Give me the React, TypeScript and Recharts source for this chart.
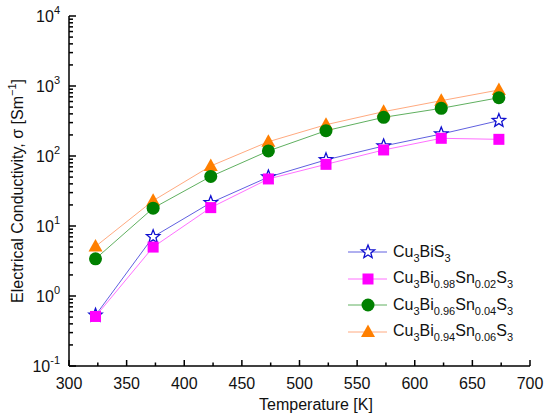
import { LineChart, Line, XAxis, YAxis, Legend } from "recharts";

// temperature [K] and conductivity [S/m]
const temperatures = [323, 373, 423, 473, 523, 573, 623, 673];
const cu3bis3 = [0.53, 7.0, 21.5, 50, 88, 139, 206, 320];
const sn002 = [0.51, 5.0, 18.3, 47, 76, 122, 179, 173];
const sn004 = [3.4, 18, 51, 118, 230, 357, 480, 680];
const sn006 = [5.1, 23, 72, 160, 280, 430, 617, 877];

const xTicks = [300, 325, 350, 375, 400, 425, 450, 475, 500, 525, 550, 575, 600, 625, 650, 675, 700];
const xLabels = [300, 350, 400, 450, 500, 550, 600, 650, 700];
const yTicks = [
  0.1, 0.2, 0.3, 0.4, 0.5, 0.6, 0.7, 0.8, 0.9,
  1, 2, 3, 4, 5, 6, 7, 8, 9,
  10, 20, 30, 40, 50, 60, 70, 80, 90,
  100, 200, 300, 400, 500, 600, 700, 800, 900,
  1000, 2000, 3000, 4000, 5000, 6000, 7000, 8000, 9000,
  10000,
];
const yLabels = [0.1, 1, 10, 100, 1000, 10000];

const data = temperatures.map((t, i) => ({
  t,
  a: cu3bis3[i],
  b: sn002[i],
  c: sn004[i],
  d: sn006[i],
}));

const FONT = "'Liberation Sans', Arial, sans-serif";

const series = [
  { key: "a", shape: "star", color: "#1010d0", line: "#6060e0", parts: [["Cu", ""], ["3", "sub"], ["BiS", ""], ["3", "sub"]] },
  { key: "b", shape: "square", color: "#ff00ff", line: "#ff70ff", parts: [["Cu", ""], ["3", "sub"], ["Bi", ""], ["0.98", "sub"], ["Sn", ""], ["0.02", "sub"], ["S", ""], ["3", "sub"]] },
  { key: "c", shape: "circle", color: "#008000", line: "#60b060", parts: [["Cu", ""], ["3", "sub"], ["Bi", ""], ["0.96", "sub"], ["Sn", ""], ["0.04", "sub"], ["S", ""], ["3", "sub"]] },
  { key: "d", shape: "triangle", color: "#ff7f00", line: "#ffaa80", parts: [["Cu", ""], ["3", "sub"], ["Bi", ""], ["0.94", "sub"], ["Sn", ""], ["0.06", "sub"], ["S", ""], ["3", "sub"]] },
];

function Marker({ shape, cx, cy, color }: { shape: string; cx: number; cy: number; color: string }) {
  if (shape === "star") {
    const pts: string[] = [];
    for (let k = 0; k < 10; k++) {
      const r = k % 2 === 0 ? 7 : 3;
      const ang = -Math.PI / 2 + (k * Math.PI) / 5;
      pts.push(`${cx + r * Math.cos(ang)},${cy + r * Math.sin(ang)}`);
    }
    return <polygon points={pts.join(" ")} fill="#fff" stroke={color} strokeWidth={1.3} />;
  }
  if (shape === "square") {
    return <rect x={cx - 5.5} y={cy - 5.5} width={11} height={11} fill={color} />;
  }
  if (shape === "circle") {
    return <circle cx={cx} cy={cy} r={6.5} fill={color} />;
  }
  return (
    <polygon
      points={`${cx},${cy - 7.5} ${cx + 7},${cy + 5} ${cx - 7},${cy + 5}`}
      fill={color}
    />
  );
}

function makeDot(shape: string, color: string) {
  return (props: any) => {
    if (props.cx == null || props.cy == null) return <g key={props.index} />;
    return (
      <g key={props.index}>
        <Marker shape={shape} cx={props.cx} cy={props.cy} color={color} />
      </g>
    );
  };
}

// tick marks point into the plot
function XTick(props: any) {
  const { x, y, payload } = props;
  const major = xLabels.includes(payload.value);
  const len = major ? 6 : 3.5;
  return (
    <g>
      <rect x={x - 0.75} y={y - len} width={1.5} height={len} fill="#000" />
      {major && (
        <text x={x} y={y + 22.5} textAnchor="middle" fontSize={16} fontFamily={FONT} fill="#111">
          {payload.value}
        </text>
      )}
    </g>
  );
}

function YTick(props: any) {
  const { x, y, payload } = props;
  const major = yLabels.includes(payload.value);
  const exp = Math.round(Math.log10(payload.value));
  const len = major ? 7 : 4;
  return (
    <g>
      <rect x={x} y={y - 0.75} width={len} height={1.5} fill="#000" />
      {major && (
        <text x={x - 9} y={y + 6} textAnchor="end" fontSize={16} fontFamily={FONT} fill="#111">
          <tspan>10</tspan>
          <tspan dy={-8} fontSize={11}>{exp}</tspan>
        </text>
      )}
    </g>
  );
}

function YLabel() {
  return (
    <text
      transform="translate(23,191) rotate(-90)"
      textAnchor="middle"
      fontSize={16}
      fontFamily={FONT}
      fill="#111"
    >
      <tspan>Electrical Conductivity, σ [Sm</tspan>
      <tspan dy={-7} fontSize={11}>−1</tspan>
      <tspan dy={7}>]</tspan>
    </text>
  );
}

function XLabel() {
  return (
    <text x={316} y={410} textAnchor="middle" fontSize={16} fontFamily={FONT} fill="#111">
      Temperature [K]
    </text>
  );
}

function LegendBox() {
  return (
    <div style={{ fontFamily: FONT, fontSize: 16, color: "#111" }}>
      {series.map((s) => (
        <div key={s.key} style={{ height: 26.5, display: "flex", alignItems: "center" }}>
          <svg width={44} height={20} style={{ display: "block" }}>
            <line x1={2} y1={10} x2={41} y2={10} stroke={s.line} strokeWidth={1} />
            <Marker shape={s.shape} cx={22} cy={10} color={s.color} />
          </svg>
          <span style={{ marginLeft: 3, whiteSpace: "nowrap", lineHeight: "16px" }}>
            {s.parts.map((p, i) =>
              p[1] === "sub" ? (
                <span key={i} style={{ fontSize: 11, position: "relative", top: 5 }}>
                  {p[0]}
                </span>
              ) : (
                <span key={i}>{p[0]}</span>
              )
            )}
          </span>
        </div>
      ))}
    </div>
  );
}

export default function App() {
  // draw order: orange under green, star under square
  const drawOrder = ["d", "c", "a", "b"];
  return (
    <div style={{ position: "absolute", left: 0, top: 0, background: "#fff" }}>
      <LineChart
        width={550}
        height={419}
        data={data}
        margin={{ top: 16, right: 20, left: 0, bottom: 0 }}
        style={{ fontFamily: FONT }}
      >
        <XAxis
          dataKey="t"
          type="number"
          domain={[300, 700]}
          ticks={xTicks}
          interval={0}
          height={53}
          tickSize={0}
          tickMargin={0}
          tickLine={false}
          axisLine={{ stroke: "#000", strokeWidth: 1.5 }}
          tick={<XTick />}
          label={<XLabel />}
          allowDataOverflow
        />
        <XAxis
          xAxisId="top"
          orientation="top"
          dataKey="t"
          type="number"
          domain={[300, 700]}
          height={0}
          tick={false}
          tickLine={false}
          axisLine={{ stroke: "#000", strokeWidth: 1.5 }}
          allowDataOverflow
        />
        <YAxis
          type="number"
          scale="log"
          domain={[0.1, 10000]}
          ticks={yTicks}
          interval={0}
          width={69}
          tickSize={0}
          tickMargin={0}
          tickLine={false}
          axisLine={{ stroke: "#000", strokeWidth: 1.5 }}
          tick={<YTick />}
          label={<YLabel />}
          allowDataOverflow
        />
        <YAxis
          yAxisId="right"
          orientation="right"
          type="number"
          scale="log"
          domain={[0.1, 10000]}
          width={0}
          tick={false}
          tickLine={false}
          axisLine={{ stroke: "#000", strokeWidth: 1.5 }}
          allowDataOverflow
        />
        {drawOrder.map((k) => {
          const s = series.find((q) => q.key === k)!;
          return (
            <Line
              key={k}
              dataKey={k}
              type="linear"
              stroke={s.line}
              strokeWidth={1}
              dot={makeDot(s.shape, s.color)}
              activeDot={false}
              isAnimationActive={false}
            />
          );
        })}
        <Legend
          layout="vertical"
          align="center"
          verticalAlign="middle"
          wrapperStyle={{ position: "absolute", left: 346, top: 239, width: 200 }}
          content={<LegendBox />}
        />
      </LineChart>
    </div>
  );
}
